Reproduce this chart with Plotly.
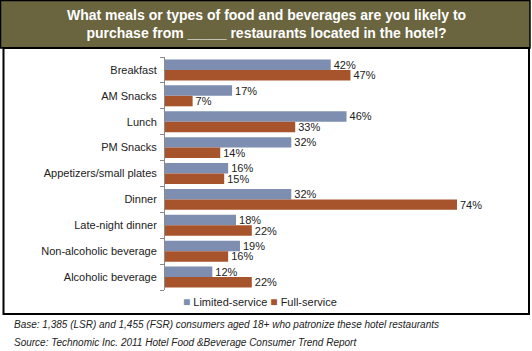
import plotly.graph_objects as go

categories = ["Breakfast", "AM Snacks", "Lunch", "PM Snacks", "Appetizers/small plates",
              "Dinner", "Late-night dinner", "Non-alcoholic beverage", "Alcoholic beverage"]
limited = [42, 17, 46, 32, 16, 32, 18, 19, 12]
full = [47, 7, 33, 14, 15, 74, 22, 16, 22]
series_names = ["Limited-service", "Full-service"]
colors = ["#7D8EB1", "#A7532C"]

W, H = 532, 351
L, R, T, B = 165, 13, 57, 61
PW, PH = W - L - R, H - T - B
FONT = "Arial, Liberation Sans, sans-serif"

def px(x):
    return (x - L) / PW

def py(y):
    return (H - B - y) / PH

idx = list(range(len(categories)))
fig = go.Figure()
for name, vals, col in [(series_names[0], limited, colors[0]), (series_names[1], full, colors[1])]:
    fig.add_trace(go.Bar(
        y=idx, x=vals, orientation="h", name=name,
        marker=dict(color=col, line=dict(width=0)),
        texttemplate="%{x}%", textposition="outside", constraintext="none",
        cliponaxis=False,
        textfont=dict(family=FONT, size=11, color="#222222"),
    ))

fig.update_layout(
    width=W, height=H, margin=dict(l=L, r=R, t=T, b=B),
    paper_bgcolor="white", plot_bgcolor="white",
    barmode="group", bargap=0.19, bargroupgap=0,
    font=dict(family=FONT, size=11, color="#222222"),
    xaxis=dict(range=[0, PW / 3.946], visible=False),
    yaxis=dict(range=[8.5, -0.5], tickmode="array", tickvals=idx, ticktext=categories,
               showline=True, linecolor="#8a8a8a", linewidth=1, showgrid=False, zeroline=False,
               ticks="", ticklabelstandoff=5,
               minor=dict(tickmode="array", tickvals=[i - 0.5 for i in range(len(categories) + 1)],
                          ticks="outside", ticklen=4, tickcolor="#8a8a8a", showgrid=False),
               tickfont=dict(size=11, color="#222222")),
    showlegend=False,
)

shapes = [
    dict(type="rect", xref="paper", yref="paper", x0=px(0.5), x1=px(530), y0=py(0.5), y1=py(48),
         fillcolor="#6A653F", line=dict(color="black", width=1.5), layer="below"),
    dict(type="rect", xref="paper", yref="paper", x0=px(3.5), x1=px(529), y0=py(48), y1=py(314),
         fillcolor="rgba(0,0,0,0)", line=dict(color="black", width=2), layer="above"),
]
fig.update_layout(shapes=shapes)

legend_text = " ".join(
    f"<span style='color:{c};font-size:12px'>■</span> {n}" for n, c in zip(series_names, colors)
)
fig.add_annotation(xref="paper", yref="paper", x=px(260), y=py(302), xanchor="center", yanchor="middle",
                   text=legend_text, showarrow=False, font=dict(family=FONT, size=11, color="#222222"))

fig.add_annotation(xref="paper", yref="paper", x=px(266), y=py(24), xanchor="center", yanchor="middle",
                   text="<b>What meals or types of food and beverages are you likely to<br>purchase from _____ restaurants located in the hotel?</b>",
                   showarrow=False, font=dict(family=FONT, size=14, color="white"), align="center")
fig.add_annotation(xref="paper", yref="paper", x=px(12), y=py(324), xanchor="left", yanchor="middle",
                   text="<i>Base: 1,385 (LSR) and 1,455 (FSR) consumers aged 18+ who patronize these hotel restaurants</i>",
                   showarrow=False, font=dict(family=FONT, size=10, color="#222222"))
fig.add_annotation(xref="paper", yref="paper", x=px(12), y=py(342), xanchor="left", yanchor="middle",
                   text="<i>Source: Technomic Inc. 2011 Hotel Food &amp;Beverage Consumer Trend Report</i>",
                   showarrow=False, font=dict(family=FONT, size=10, color="#222222"))

fig.write_html("out.html")
